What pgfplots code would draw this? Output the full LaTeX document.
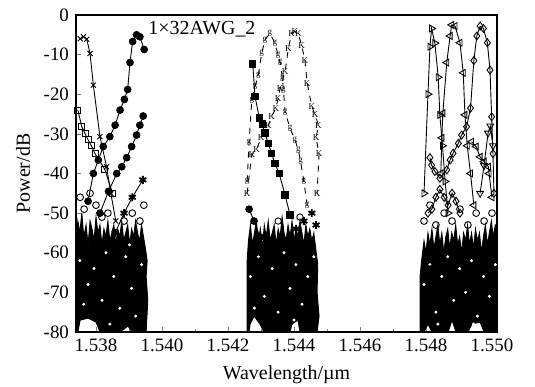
\documentclass[border=0pt]{standalone}
\usepackage{fontspec}
\setmainfont{Liberation Serif}
\usepackage{pgfplots}
\pgfplotsset{compat=1.18}
\begin{document}
\begin{tikzpicture}
\path[use as bounding box] (-38bp,-27.5bp) rectangle (229.5bp,166bp);
\begin{axis}[
  scale only axis, width=210.5bp, height=158.5bp,
  xmin=1.537394, xmax=1.550152, ymin=-80, ymax=0,
  xtick={1.538,1.540,1.542,1.544,1.546,1.548,1.550},
  xticklabels={1.538,1.540,1.542,1.544,1.546,1.548,1.550},
  minor x tick num=1,
  ytick={-80,-70,-60,-50,-40,-30,-20,-10,0},
  tick pos=left, tick align=inside,
  major tick length=2.5bp, minor tick length=1.5bp,
  /pgf/number format/assume math mode=true,
  ticklabel style={font=\fontsize{9.5}{11}\selectfont},
  label style={font=\fontsize{10}{12}\selectfont},
  xlabel={Wavelength/\textmu m}, ylabel={Power/dB},
  axis line style={line width=0.8pt},
  every axis plot/.append style={line width=0.45pt, black},
  clip=true,
]
% noise floors
\addplot[fill=black, draw=black, mark=none] coordinates {
(1.53739,-80) (1.53739,-57) (1.53745,-52) (1.53751,-55) (1.53757,-50) (1.53763,-56) (1.5377,-53) (1.53776,-58) (1.53782,-52) (1.53788,-54) (1.53794,-57) (1.538,-51) (1.53806,-55) (1.53812,-53) (1.53818,-58) (1.53824,-54) (1.5383,-56) (1.53836,-52) (1.53842,-57) (1.53848,-55) (1.53854,-53) (1.5386,-58) (1.53866,-54) (1.53872,-56) (1.53878,-52) (1.53884,-57) (1.5389,-55) (1.53896,-53) (1.53902,-58) (1.53908,-54) (1.53914,-56) (1.5392,-52) (1.53926,-55) (1.53932,-57) (1.53938,-53) (1.53944,-56) (1.5395,-59) (1.53955,-62) (1.53952,-66) (1.53957,-72) (1.53952,-80) (1.53909,-80) (1.53897,-78.5) (1.53873,-80) (1.53812,-80) (1.538,-77.5) (1.53776,-76.5) (1.53752,-77) (1.53745,-80)} -- cycle;
\addplot[fill=black, draw=black, mark=none] coordinates {
(1.54258,-80) (1.54258,-62) (1.54262,-57) (1.54268,-53) (1.54274,-58) (1.5428,-55) (1.54286,-52) (1.54292,-57) (1.54298,-54) (1.54304,-59) (1.5431,-53) (1.54316,-56) (1.54322,-52) (1.54328,-57) (1.54334,-55) (1.5434,-53) (1.54346,-58) (1.54352,-54) (1.54358,-56) (1.54364,-51) (1.5437,-55) (1.54376,-57) (1.54382,-53) (1.54388,-56) (1.54394,-52) (1.544,-57) (1.54406,-54) (1.54412,-56) (1.54418,-52) (1.54424,-55) (1.5443,-58) (1.54436,-53) (1.54442,-56) (1.54448,-54) (1.54454,-57) (1.5446,-55) (1.54466,-59) (1.54472,-63) (1.5447,-70) (1.54476,-76) (1.5447,-80) (1.54418,-80) (1.54412,-77) (1.54394,-78) (1.54388,-80) (1.54309,-80) (1.54297,-78) (1.54279,-76) (1.54267,-78) (1.54264,-80)} -- cycle;
\addplot[fill=black, draw=black, mark=none] coordinates {
(1.54782,-80) (1.54782,-66) (1.54788,-61) (1.54794,-57) (1.548,-60) (1.54806,-55) (1.54812,-58) (1.54818,-54) (1.54824,-59) (1.5483,-56) (1.54836,-53) (1.54842,-58) (1.54848,-55) (1.54854,-60) (1.5486,-56) (1.54866,-54) (1.54872,-59) (1.54878,-55) (1.54884,-57) (1.5489,-53) (1.54896,-58) (1.54902,-56) (1.54908,-60) (1.54914,-55) (1.5492,-57) (1.54926,-53) (1.54932,-58) (1.54938,-55) (1.54944,-59) (1.5495,-54) (1.54956,-57) (1.54962,-55) (1.54968,-60) (1.54974,-56) (1.5498,-53) (1.54986,-58) (1.54992,-55) (1.54998,-52) (1.55004,-56) (1.5501,-53) (1.55015,-54) (1.55015,-80) (1.54976,-80) (1.54964,-77.5) (1.54939,-78) (1.54927,-80) (1.54891,-80) (1.54879,-77) (1.54867,-80) (1.54818,-80) (1.54806,-78) (1.54794,-80)} -- cycle;
% white speckles inside the noise
\addplot[only marks, mark=*, mark size=0.5pt, white, mark options={draw=white, fill=white}] coordinates {
(1.53751,-62) (1.53776,-68) (1.53794,-64) (1.53818,-72) (1.5383,-60) (1.53854,-66) (1.53872,-74) (1.5389,-61) (1.53908,-69) (1.5392,-76) (1.53938,-63) (1.53763,-73) (1.53842,-78) (1.53902,-58)
(1.54268,-66) (1.54292,-61) (1.5431,-71) (1.54334,-64) (1.54352,-75) (1.5437,-60) (1.54388,-69) (1.54406,-63) (1.54424,-73) (1.54442,-66) (1.5446,-61) (1.5428,-74) (1.544,-77)
(1.54794,-68) (1.54812,-63) (1.5483,-75) (1.54848,-66) (1.54866,-61) (1.54884,-72) (1.54902,-64) (1.5492,-70) (1.54938,-62) (1.54956,-76) (1.54974,-66) (1.54992,-71) (1.5501,-63) (1.54836,-78) (1.54944,-78)};
% cluster 1
\addplot[mark=*, mark size=1.7pt] coordinates {(1.53776,-47) (1.53792,-40) (1.53807,-36.6) (1.53822,-33.2) (1.53842,-30.7) (1.53858,-27.8) (1.53873,-24) (1.53886,-21.3) (1.53896,-18.8) (1.53903,-12) (1.53911,-6.7) (1.53923,-5) (1.53933,-5.5) (1.53946,-8.7)};
\addplot[mark=*, mark size=1.7pt] coordinates {(1.53812,-50) (1.53838,-44.5) (1.53863,-40) (1.53878,-38.3) (1.53893,-36) (1.53908,-33.2) (1.53923,-30.3) (1.53933,-27.8) (1.53943,-25.5)};
\addplot[mark=x, mark size=1.8pt] coordinates {(1.53752,-6) (1.53762,-5.5) (1.53772,-6.1) (1.53782,-9.7) (1.53792,-17.7) (1.53812,-30.7) (1.53832,-38.3) (1.53845,-45) (1.5386,-52)};
\addplot[mark=square, mark size=1.5pt, mark options={fill=white}] coordinates {(1.53745,-24) (1.53757,-28.2) (1.53767,-30) (1.53776,-31.5) (1.53786,-33) (1.53797,-35) (1.53827,-39) (1.5385,-45)};
\addplot[mark=asterisk, mark size=2pt, mark options={line width=0.9pt}] coordinates {(1.53858,-55) (1.53885,-50) (1.5391,-46) (1.53942,-41.6)};
\addplot[only marks, mark=o, mark size=1.7pt, mark options={fill=white}] coordinates {(1.53752,-46) (1.53764,-49) (1.53782,-45) (1.538,-48) (1.53818,-51) (1.53836,-50) (1.53885,-52) (1.5391,-50) (1.53933,-52) (1.53945,-48) (1.53764,-60) (1.53812,-66) (1.53873,-62) (1.53921,-70) (1.53788,-74)};
% cluster 2
\addplot[dashed, mark=text, text mark={\fontsize{4.5}{5}\selectfont g}] coordinates {(1.54258,-42) (1.54264,-32) (1.54272,-21.5) (1.54282,-18) (1.54292,-15.1) (1.54302,-9.7) (1.54312,-6.3) (1.54327,-4.6) (1.54342,-7.1) (1.54352,-10.1) (1.54358,-12) (1.54365,-16) (1.54368,-19) (1.54373,-24.4) (1.54388,-28.6) (1.54403,-31.5) (1.54413,-34.1) (1.5442,-37) (1.5443,-42) (1.5444,-48)};
\addplot[dashed, mark=text, text mark={\fontsize{4.5}{5}\selectfont K}] coordinates {(1.54258,-45) (1.54272,-35.3) (1.54287,-33.9) (1.543,-31) (1.54322,-28) (1.54332,-25.7) (1.54345,-23.5) (1.54352,-21) (1.54358,-18.5) (1.54373,-14.3) (1.54383,-8.4) (1.54393,-4.6) (1.54403,-4.2) (1.54413,-4.8) (1.54423,-7.6) (1.54433,-11.4) (1.5444,-17.2) (1.54454,-23.1) (1.54464,-25.2) (1.54474,-27.8) (1.54467,-31) (1.54476,-35) (1.5447,-45)};
\addplot[mark=square*, mark size=1.6pt] coordinates {(1.54275,-12.4) (1.54282,-20.6) (1.54295,-26) (1.54304,-27.5) (1.54312,-29.8) (1.54322,-32.4) (1.54332,-34.9) (1.54342,-37.4) (1.54355,-40) (1.54373,-45.4) (1.54388,-50.5)};
\addplot[mark=*, mark size=1.7pt] coordinates {(1.54264,-49) (1.54279,-52) (1.54297,-56)};
\addplot[only marks, mark=asterisk, mark size=2pt, mark options={line width=0.9pt}] coordinates {(1.54454,-50) (1.5443,-52) (1.54467,-53) (1.54406,-54)};
\addplot[only marks, mark=o, mark size=1.6pt, mark options={fill=white}] coordinates {(1.54285,-60) (1.54333,-66) (1.54382,-63) (1.5443,-71) (1.54309,-75) (1.54352,-52) (1.54418,-51)};
% cluster 3
\addplot[mark=triangle, mark size=2pt, mark options={rotate=-90, fill=white}] coordinates {(1.54794,-45) (1.54806,-20) (1.54812,-8) (1.54817,-3.4) (1.54827,-7.1) (1.54837,-15.7) (1.54842,-25.2) (1.5485,-33) (1.54858,-42) (1.54867,-50)};
\addplot[mark=triangle, mark size=2pt, mark options={rotate=90, fill=white}] coordinates {(1.54845,-40) (1.54848,-31) (1.54851,-24.8) (1.54863,-12) (1.54873,-5.3) (1.54878,-2.5) (1.54888,-2.8) (1.54903,-7) (1.54913,-14.6) (1.54918,-25.2) (1.54925,-33) (1.54935,-40) (1.54945,-48)};
\addplot[mark=diamond, mark size=2pt, mark options={fill=white}] coordinates {(1.54812,-36) (1.54817,-37.9) (1.54827,-39.5) (1.54842,-41.2) (1.54863,-39.1) (1.54873,-36.6) (1.54882,-34.9) (1.54898,-32.4) (1.54908,-30.3) (1.54923,-28.2) (1.54935,-23.5) (1.54945,-11.5) (1.54954,-5.3) (1.54964,-2.8) (1.54974,-3.4) (1.54986,-7) (1.54994,-13.9) (1.54999,-25.7) (1.55003,-35) (1.55006,-45)};
\addplot[mark=diamond, mark size=2pt, mark options={fill=white}] coordinates {(1.54806,-50) (1.54818,-49) (1.5483,-46) (1.54842,-44) (1.54855,-46) (1.54867,-48) (1.54879,-45) (1.54891,-47) (1.54903,-50)};
\addplot[mark=triangle, mark size=2pt, mark options={rotate=180, fill=white}] coordinates {(1.54964,-45) (1.54976,-38) (1.54988,-29.8) (1.54995,-28) (1.55003,-33)};
\addplot[mark=triangle, mark size=2pt, mark options={rotate=90, fill=white}] coordinates {(1.54938,-32) (1.54952,-33.2) (1.54964,-35.8) (1.54976,-37) (1.54989,-38.3) (1.54991,-40) (1.55,-46)};
\addplot[only marks, mark=o, mark size=1.7pt, mark options={fill=white}] coordinates {(1.54794,-52) (1.54812,-48) (1.5483,-53) (1.54855,-50) (1.54879,-52) (1.54903,-49) (1.54927,-53) (1.54952,-50) (1.54976,-52) (1.55,-50) (1.54818,-64) (1.54867,-70) (1.54915,-62) (1.54964,-74) (1.54988,-67)};
\node[font=\fontsize{10}{12}\selectfont, anchor=center] at (axis cs:1.54121,-3.6) {1×32AWG\_2};
\end{axis}
\end{tikzpicture}
\end{document}
